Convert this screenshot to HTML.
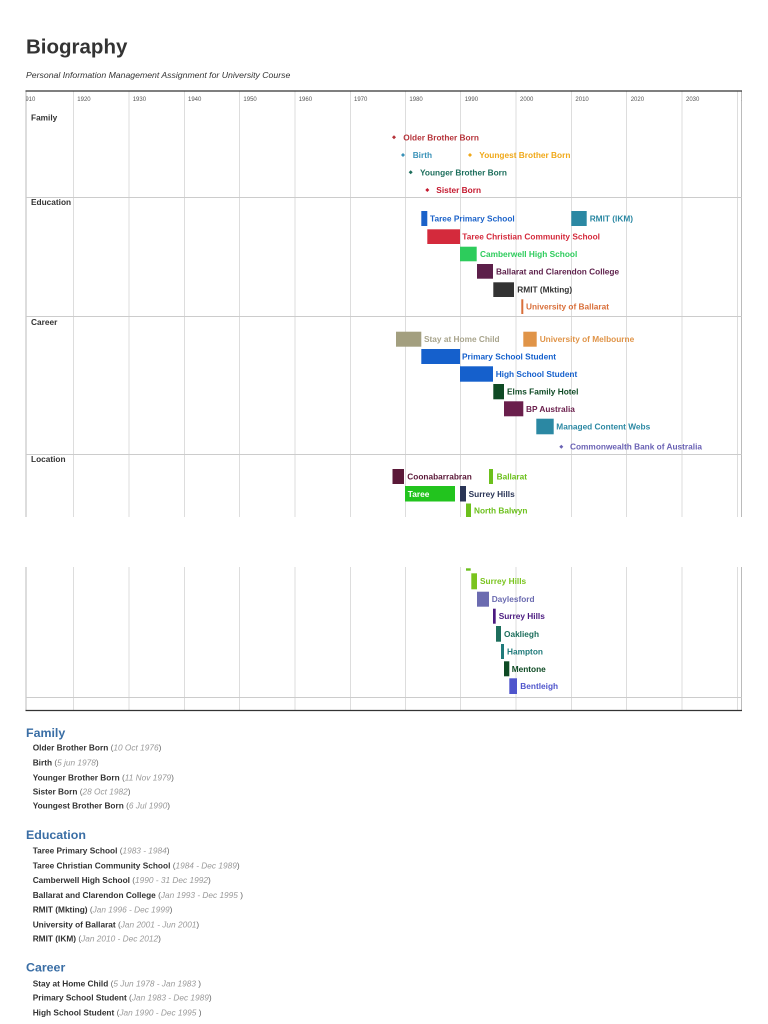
<!DOCTYPE html>
<html><head><meta charset="utf-8"><style>
html,body{margin:0;padding:0;background:#fff;}
svg{display:block;font-family:"Liberation Sans",Arial,sans-serif;}
.ax{font-size:6px;fill:#555;}
.sec{font-size:8.3px;font-weight:bold;fill:#333;}
.lb{font-size:8.3px;font-weight:bold;}
.it{font-size:8.3px;}
.b{font-weight:bold;fill:#333;}
.p{fill:#666;}
.d{font-style:italic;fill:#999;}
.h{font-size:12.4px;font-weight:bold;fill:#3a6ea5;}
</style></head><body>
<svg width="768" height="1024" viewBox="0 0 768 1024" xmlns="http://www.w3.org/2000/svg">
<defs><clipPath id="c"><rect x="26" y="90" width="715.5" height="20"/></clipPath></defs>
<text x="26" y="53.3" font-size="20.5" font-weight="bold" fill="#333">Biography</text>
<text x="26" y="78" font-size="8.7" font-style="italic" fill="#333">Personal Information Management Assignment for University Course</text>

<!-- gridlines -->
<g stroke="#dddddd" stroke-width="1">
<line x1="73.5" y1="91" x2="73.5" y2="517"/><line x1="129" y1="91" x2="129" y2="517"/><line x1="184.5" y1="91" x2="184.5" y2="517"/><line x1="239.5" y1="91" x2="239.5" y2="517"/><line x1="295" y1="91" x2="295" y2="517"/><line x1="350.5" y1="91" x2="350.5" y2="517"/><line x1="405.5" y1="91" x2="405.5" y2="517"/><line x1="460.5" y1="91" x2="460.5" y2="517"/><line x1="516" y1="91" x2="516" y2="517"/><line x1="571.5" y1="91" x2="571.5" y2="517"/><line x1="626.5" y1="91" x2="626.5" y2="517"/><line x1="682" y1="91" x2="682" y2="517"/><line x1="737.5" y1="91" x2="737.5" y2="517"/>
<line x1="73.5" y1="567" x2="73.5" y2="710"/><line x1="129" y1="567" x2="129" y2="710"/><line x1="184.5" y1="567" x2="184.5" y2="710"/><line x1="239.5" y1="567" x2="239.5" y2="710"/><line x1="295" y1="567" x2="295" y2="710"/><line x1="350.5" y1="567" x2="350.5" y2="710"/><line x1="405.5" y1="567" x2="405.5" y2="710"/><line x1="460.5" y1="567" x2="460.5" y2="710"/><line x1="516" y1="567" x2="516" y2="710"/><line x1="571.5" y1="567" x2="571.5" y2="710"/><line x1="626.5" y1="567" x2="626.5" y2="710"/><line x1="682" y1="567" x2="682" y2="710"/><line x1="737.5" y1="567" x2="737.5" y2="710"/>
</g>
<!-- frame -->
<g stroke="#bbbbbb" stroke-width="1">
<line x1="26" y1="91" x2="26" y2="517"/><line x1="741.5" y1="91" x2="741.5" y2="517"/>
<line x1="26" y1="567" x2="26" y2="710"/><line x1="741.5" y1="567" x2="741.5" y2="710"/>
</g>
<g stroke="#cccccc" stroke-width="1">
<line x1="26" y1="197.5" x2="741.5" y2="197.5"/>
<line x1="26" y1="316.5" x2="741.5" y2="316.5"/>
<line x1="26" y1="454.5" x2="741.5" y2="454.5"/>
<line x1="26" y1="697.5" x2="741.5" y2="697.5"/>
</g>
<line x1="25.5" y1="91" x2="742" y2="91" stroke="#333" stroke-width="1.3"/>
<line x1="25.5" y1="710.5" x2="742" y2="710.5" stroke="#333" stroke-width="1.3"/>

<!-- axis labels -->
<g class="ax" clip-path="url(#c)">
<text x="22" y="101">1910</text><text x="77.3" y="101">1920</text><text x="132.7" y="101">1930</text><text x="188" y="101">1940</text><text x="243.4" y="101">1950</text><text x="298.7" y="101">1960</text><text x="354" y="101">1970</text><text x="409.4" y="101">1980</text><text x="464.7" y="101">1990</text><text x="520" y="101">2000</text><text x="575.4" y="101">2010</text><text x="630.7" y="101">2020</text><text x="686" y="101">2030</text><text x="741" y="101">2040</text>
</g>

<!-- section labels -->
<text class="sec" x="31" y="120.5">Family</text>
<text class="sec" x="31" y="205">Education</text>
<text class="sec" x="31" y="325">Career</text>
<text class="sec" x="31" y="462">Location</text>

<!-- Family diamonds -->
<g>
<polygon points="394,135.3 396,137.3 394,139.3 392,137.3" fill="#b5333a"/>
<text class="lb" x="403.3" y="140.3" fill="#b5333a">Older Brother Born</text>
<polygon points="403,153 405,155 403,157 401,155" fill="#3a92b8"/>
<text class="lb" x="412.7" y="158" fill="#3a92b8">Birth</text>
<polygon points="470,153 472,155 470,157 468,155" fill="#f0a818"/>
<text class="lb" x="479.3" y="158" fill="#f0a818">Youngest Brother Born</text>
<polygon points="410.7,170.3 412.7,172.3 410.7,174.3 408.7,172.3" fill="#1d6e5c"/>
<text class="lb" x="420" y="175.3" fill="#1d6e5c">Younger Brother Born</text>
<polygon points="427.3,188 429.3,190 427.3,192 425.3,190" fill="#c4182e"/>
<text class="lb" x="436.3" y="193" fill="#c4182e">Sister Born</text>
</g>

<!-- Education -->
<g>
<rect x="421.3" y="211" width="6" height="15" fill="#1b62c9"/>
<text class="lb" x="430" y="221.5" fill="#1b62c9">Taree Primary School</text>
<rect x="571.3" y="211" width="15.4" height="15" fill="#2b88a3"/>
<text class="lb" x="589.7" y="221.5" fill="#2b88a3">RMIT (IKM)</text>
<rect x="427.3" y="229.3" width="32.7" height="14.7" fill="#d42a3c"/>
<text class="lb" x="462.3" y="239.6" fill="#d42a3c">Taree Christian Community School</text>
<rect x="460" y="246.7" width="16.7" height="14.6" fill="#2dcc5c"/>
<text class="lb" x="480" y="257" fill="#2dcc5c">Camberwell High School</text>
<rect x="477" y="264" width="16" height="14.7" fill="#5c1f4a"/>
<text class="lb" x="496" y="274.3" fill="#5c1f4a">Ballarat and Clarendon College</text>
<rect x="493.3" y="282.3" width="20.7" height="14.7" fill="#333333"/>
<text class="lb" x="517.3" y="292.6" fill="#333333">RMIT (Mkting)</text>
<rect x="521.3" y="299.3" width="2" height="14.7" fill="#d96f3a"/>
<text class="lb" x="526" y="309.6" fill="#d96f3a">University of Ballarat</text>
</g>

<!-- Career -->
<g>
<rect x="396" y="331.7" width="25.3" height="15" fill="#a39f7f"/>
<text class="lb" x="424" y="342.2" fill="#a8a48c">Stay at Home Child</text>
<rect x="523.3" y="331.7" width="13.4" height="15" fill="#e09448"/>
<text class="lb" x="539.7" y="342.2" fill="#e09448">University of Melbourne</text>
<rect x="421.3" y="349" width="38.7" height="15" fill="#1560cc"/>
<text class="lb" x="462" y="359.5" fill="#1560cc">Primary School Student</text>
<rect x="460" y="366.3" width="33" height="15.4" fill="#1560cc"/>
<text class="lb" x="495.7" y="377" fill="#1560cc">High School Student</text>
<rect x="493.3" y="384" width="10.7" height="15.3" fill="#0e4a24"/>
<text class="lb" x="507" y="394.6" fill="#0e4a24">Elms Family Hotel</text>
<rect x="504" y="401.3" width="19.3" height="15" fill="#6a1f4c"/>
<text class="lb" x="526" y="411.8" fill="#6a1f4c">BP Australia</text>
<rect x="536.3" y="418.7" width="17.4" height="15.6" fill="#2b88a3"/>
<text class="lb" x="556.3" y="429.5" fill="#2b88a3">Managed Content Webs</text>
<polygon points="561.3,444.7 563.3,446.7 561.3,448.7 559.3,446.7" fill="#6a62b4"/>
<text class="lb" x="570" y="449.7" fill="#6a62b4">Commonwealth Bank of Australia</text>
</g>

<!-- Location -->
<g>
<rect x="392.5" y="469" width="11.5" height="15" fill="#5a1838"/>
<text class="lb" x="407.3" y="479.5" fill="#5a1838">Coonabarrabran</text>
<rect x="489" y="469" width="4" height="15" fill="#6cc01c"/>
<text class="lb" x="496.6" y="479.5" fill="#6cc01c">Ballarat</text>
<rect x="405" y="486" width="50" height="15.5" fill="#22c41e"/>
<text class="lb" x="407.8" y="496.8" fill="#ffffff">Taree</text>
<rect x="460" y="486" width="6" height="15.5" fill="#2a3556"/>
<text class="lb" x="468.6" y="496.8" fill="#2a3556">Surrey Hills</text>
<rect x="466" y="503.5" width="5" height="13.5" fill="#6cc01c"/>
<text class="lb" x="474" y="513.5" fill="#6cc01c">North Balwyn</text>

<rect x="466" y="568.3" width="4.7" height="2.4" fill="#6cc01c"/>
<rect x="471.3" y="573.3" width="5.7" height="16" fill="#7ac41e"/>
<text class="lb" x="480" y="584" fill="#7ac41e">Surrey Hills</text>
<rect x="477" y="591.7" width="12" height="15" fill="#6b6bb0"/>
<text class="lb" x="491.7" y="602.2" fill="#6b6bb0">Daylesford</text>
<rect x="493" y="608.7" width="2.7" height="15" fill="#4b1a80"/>
<text class="lb" x="498.7" y="619.2" fill="#4b1a80">Surrey Hills</text>
<rect x="496" y="626" width="5" height="15.7" fill="#1d6e5c"/>
<text class="lb" x="504" y="636.8" fill="#1d6e5c">Oakliegh</text>
<rect x="501" y="644" width="3" height="15" fill="#1f7a7a"/>
<text class="lb" x="507" y="654.5" fill="#1f7a7a">Hampton</text>
<rect x="504" y="661.3" width="5.3" height="15" fill="#0e4a24"/>
<text class="lb" x="511.7" y="671.8" fill="#0e4a24">Mentone</text>
<rect x="509.3" y="678.3" width="7.7" height="15.7" fill="#4f55cc"/>
<text class="lb" x="520.3" y="689.2" fill="#4f55cc">Bentleigh</text>
</g>

<!-- Lists -->
<text class="h" x="26" y="737">Family</text>
<text class="it" x="32.7" y="750.7"><tspan class="b">Older Brother Born</tspan><tspan class="p"> (</tspan><tspan class="d">10 Oct 1976</tspan><tspan class="p">)</tspan></text>
<text class="it" x="32.7" y="765.3"><tspan class="b">Birth</tspan><tspan class="p"> (</tspan><tspan class="d">5 jun 1978</tspan><tspan class="p">)</tspan></text>
<text class="it" x="32.7" y="780.3"><tspan class="b">Younger Brother Born</tspan><tspan class="p"> (</tspan><tspan class="d">11 Nov 1979</tspan><tspan class="p">)</tspan></text>
<text class="it" x="32.7" y="794.7"><tspan class="b">Sister Born</tspan><tspan class="p"> (</tspan><tspan class="d">28 Oct 1982</tspan><tspan class="p">)</tspan></text>
<text class="it" x="32.7" y="808.7"><tspan class="b">Youngest Brother Born</tspan><tspan class="p"> (</tspan><tspan class="d">6 Jul 1990</tspan><tspan class="p">)</tspan></text>

<text class="h" x="26" y="839">Education</text>
<text class="it" x="32.7" y="853.7"><tspan class="b">Taree Primary School</tspan><tspan class="p"> (</tspan><tspan class="d">1983 - 1984</tspan><tspan class="p">)</tspan></text>
<text class="it" x="32.7" y="868.7"><tspan class="b">Taree Christian Community School</tspan><tspan class="p"> (</tspan><tspan class="d">1984 - Dec 1989</tspan><tspan class="p">)</tspan></text>
<text class="it" x="32.7" y="883"><tspan class="b">Camberwell High School</tspan><tspan class="p"> (</tspan><tspan class="d">1990 - 31 Dec 1992</tspan><tspan class="p">)</tspan></text>
<text class="it" x="32.7" y="898"><tspan class="b">Ballarat and Clarendon College</tspan><tspan class="p"> (</tspan><tspan class="d">Jan 1993 - Dec 1995 </tspan><tspan class="p">)</tspan></text>
<text class="it" x="32.7" y="912.3"><tspan class="b">RMIT (Mkting)</tspan><tspan class="p"> (</tspan><tspan class="d">Jan 1996 - Dec 1999</tspan><tspan class="p">)</tspan></text>
<text class="it" x="32.7" y="927.3"><tspan class="b">University of Ballarat</tspan><tspan class="p"> (</tspan><tspan class="d">Jan 2001 - Jun 2001</tspan><tspan class="p">)</tspan></text>
<text class="it" x="32.7" y="941.3"><tspan class="b">RMIT (IKM)</tspan><tspan class="p"> (</tspan><tspan class="d">Jan 2010 - Dec 2012</tspan><tspan class="p">)</tspan></text>

<text class="h" x="26" y="971.7">Career</text>
<text class="it" x="32.7" y="986.3"><tspan class="b">Stay at Home Child</tspan><tspan class="p"> (</tspan><tspan class="d">5 Jun 1978 - Jan 1983 </tspan><tspan class="p">)</tspan></text>
<text class="it" x="32.7" y="1000.7"><tspan class="b">Primary School Student</tspan><tspan class="p"> (</tspan><tspan class="d">Jan 1983 - Dec 1989</tspan><tspan class="p">)</tspan></text>
<text class="it" x="32.7" y="1015.3"><tspan class="b">High School Student</tspan><tspan class="p"> (</tspan><tspan class="d">Jan 1990 - Dec 1995 </tspan><tspan class="p">)</tspan></text>
</svg>
</body></html>
